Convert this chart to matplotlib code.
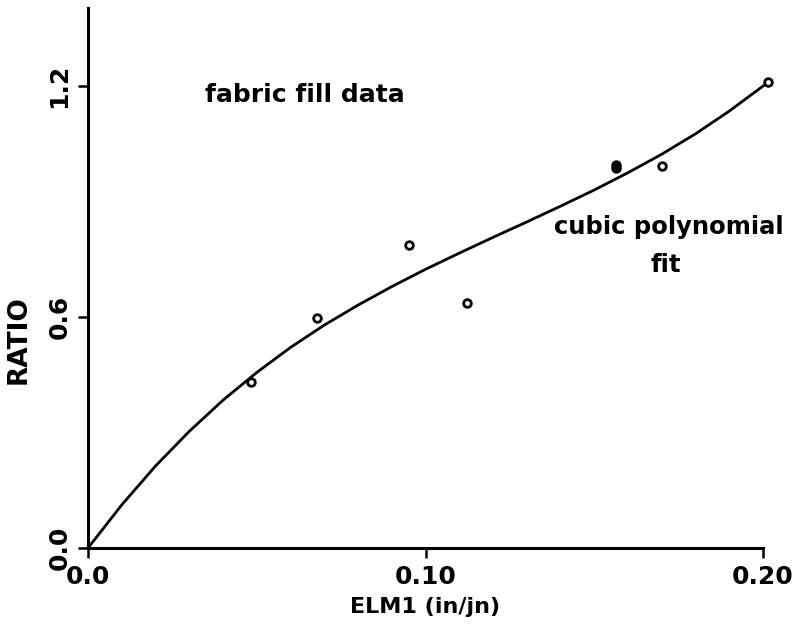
import numpy as np
import matplotlib
matplotlib.use("Agg")
import matplotlib.pyplot as plt

# --- data ---
elm1_open = [0.0483, 0.0679, 0.0951, 0.1123, 0.1701, 0.2015]
ratio_open = [0.431, 0.597, 0.787, 0.636, 0.992, 1.210]

elm1_filled = [0.1564, 0.1564]
ratio_filled = [0.996, 0.986]

# cubic polynomial fit curve
fit_x = [0.0, 0.01, 0.02, 0.03, 0.04, 0.05, 0.06, 0.07, 0.08, 0.09, 0.10,
         0.11, 0.12, 0.13, 0.14, 0.15, 0.16, 0.17, 0.18, 0.19, 0.20, 0.2015]
fit_y = [0.0, 0.112, 0.213, 0.303, 0.384, 0.456, 0.521, 0.579, 0.631, 0.679, 0.724,
         0.766, 0.807, 0.847, 0.888, 0.930, 0.975, 1.023, 1.076, 1.135, 1.200, 1.210]

x_ticks = [0.0, 0.10, 0.20]
x_ticklabels = ["0.0", "0.10", "0.20"]
y_ticks = [0.0, 0.6, 1.2]
y_ticklabels = ["0.0", "0.6", "1.2"]

fig = plt.figure(figsize=(7.95, 6.28), dpi=100)
ax = fig.add_axes([0.1107, 0.1274, 0.8491, 0.86])

ax.plot(fit_x, fit_y, color="black", lw=2.0, clip_on=False, zorder=2)
ax.plot(elm1_open, ratio_open, "o", ms=5.5, mfc="white", mec="black", mew=2.0,
        clip_on=False, zorder=3)
ax.plot(elm1_filled, ratio_filled, "o", ms=6, mfc="black", mec="black", mew=1.5,
        clip_on=False, zorder=3)

ax.set_xlim(0, 0.2)
ax.set_ylim(0, 1.403)

for side in ["top", "right"]:
    ax.spines[side].set_visible(False)
for side in ["left", "bottom"]:
    ax.spines[side].set_linewidth(2.2)

ax.set_xticks(x_ticks)
ax.set_xticklabels(x_ticklabels, fontsize=18, fontweight="bold")
ax.set_yticks(y_ticks)
ax.set_yticklabels(y_ticklabels, fontsize=18, fontweight="bold", rotation=90, va="center")
ax.tick_params(axis="both", direction="out", length=7, width=1.8, pad=5)

ax.set_xlabel("ELM1 (in/jn)", fontsize=16, fontweight="bold", labelpad=6)
ax.set_ylabel("RATIO", fontsize=19, fontweight="bold")
ax.yaxis.set_label_coords(-0.083, 0.385)

ax.text(0.0643, 1.177, "fabric fill data", fontsize=18, fontweight="bold",
        ha="center", va="center")
ax.text(0.1721, 0.834, "cubic polynomial", fontsize=17.5, fontweight="bold",
        ha="center", va="center")
ax.text(0.1713, 0.735, "fit", fontsize=17.5, fontweight="bold", ha="center", va="center")

fig.savefig("out.png", dpi=100)
